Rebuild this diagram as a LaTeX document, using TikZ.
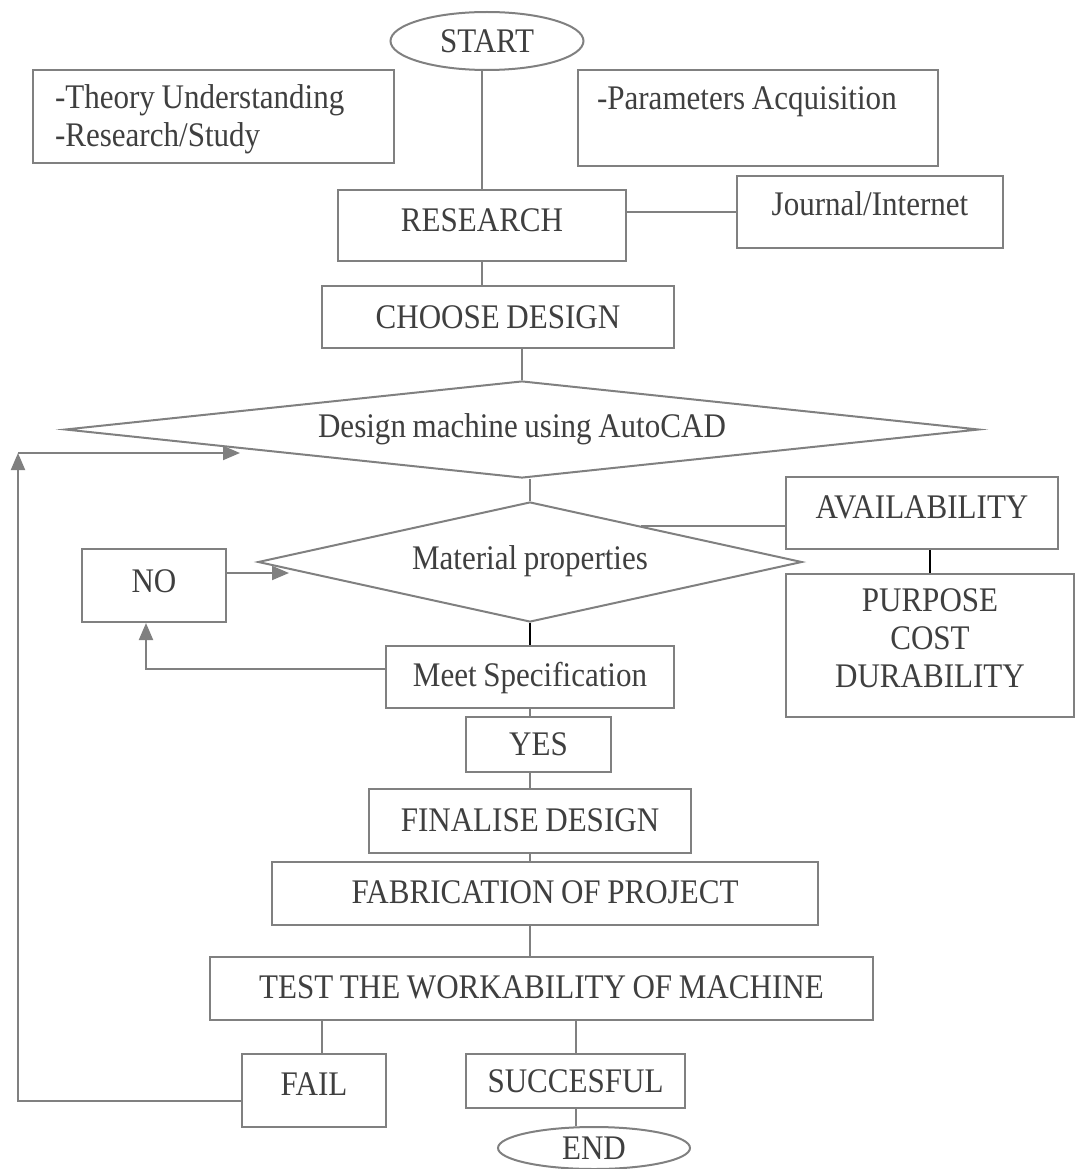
\documentclass[tikz,border=0pt]{standalone}
\usepackage{fontspec}
\setmainfont{Liberation Serif}[FakeStretch=0.9,WordSpace=0.85]
\usetikzlibrary{shapes.geometric,arrows.meta}
\definecolor{linegray}{HTML}{808080}
\definecolor{textgray}{HTML}{3F3F3F}
\tikzstyle{flowbox}=[draw=linegray,line width=2pt,rectangle,inner sep=0pt,text=textgray,font=\fontsize{34.5}{38}\selectfont]
\tikzstyle{terminal}=[flowbox,ellipse]
\tikzstyle{decision}=[flowbox,diamond]
\tikzstyle{link}=[draw=linegray,line width=2pt]
\tikzstyle{darklink}=[draw=black,line width=2pt]
\tikzstyle{backlink}=[link,-{Triangle[length=17pt,width=14pt]}]
\tikzset{txtup/.style={text height=22pt,text depth=#1}} % pushes the text up in the box

\begin{document}
\begin{tikzpicture}[x=1pt,y=-1pt]
\useasboundingbox (0,0) rectangle (1076,1169);
% top part
\node[terminal,minimum width=193pt,minimum height=58pt] (start) at (487,41) {START};
\node[flowbox,minimum width=361pt,minimum height=93pt,text width=317pt,align=flush left,text height=30pt] (theory) at (213.5,116.5) {-Theory Understanding\\-Research/Study};
\node[flowbox,minimum width=360pt,minimum height=96pt,text width=322pt,align=flush left,txtup=38pt] (params) at (758,118) {-Parameters Acquisition};
\node[flowbox,minimum width=288pt,minimum height=71pt,txtup=11pt] (research) at (482,225.5) {RESEARCH};
\node[flowbox,minimum width=266pt,minimum height=72pt,txtup=16pt] (journal) at (870,212) {Journal/Internet};
\node[flowbox,minimum width=352pt,minimum height=62pt,txtup=0pt] (choose) at (498,317) {CHOOSE DESIGN};
% decisions
\node[decision,minimum width=914pt,minimum height=97pt,shape aspect=9,txtup=7pt] (design) at (522,429.5) {Design machine using AutoCAD};
\node[decision,minimum width=544pt,minimum height=120pt,shape aspect=4.5,txtup=7pt] (mat) at (530,562) {Material properties};
\node[flowbox,minimum width=272pt,minimum height=72pt,txtup=12pt] (avail) at (922,513) {AVAILABILITY};
\node[flowbox,minimum width=288pt,minimum height=143pt,text width=288pt,align=center,text depth=90pt] (purpose) at (930,645.5) {PURPOSE\\COST\\DURABILITY};
\node[flowbox,minimum width=144pt,minimum height=73pt,txtup=9pt] (no) at (154,585.5) {NO};
\node[flowbox,minimum width=288pt,minimum height=62pt,txtup=4pt] (meet) at (530,677) {Meet Specification};
% bottom part
\node[flowbox,minimum width=145pt,minimum height=55pt,txtup=0pt] (yes) at (538.5,744.5) {YES};
\node[flowbox,minimum width=322pt,minimum height=64pt,txtup=2pt] (final) at (530,821) {FINALISE DESIGN};
\node[flowbox,minimum width=546pt,minimum height=63pt,txtup=2pt] (fab) at (545,893.5) {FABRICATION OF PROJECT};
\node[flowbox,minimum width=663pt,minimum height=63pt,txtup=2pt] (test) at (541.5,988.5) {TEST THE WORKABILITY OF MACHINE};
\node[flowbox,minimum width=144pt,minimum height=73pt,txtup=13pt] (fail) at (314,1090.5) {FAIL};
\node[flowbox,minimum width=219pt,minimum height=54pt,txtup=0pt] (succ) at (575.5,1081) {SUCCESFUL};
\node[terminal,minimum width=192pt,minimum height=42pt] (end) at (594,1148) {END};

\coordinate (noin) at (289,573);
\coordinate (ret) at (18,453);
\coordinate (retin) at (240,453);

\draw[link] (research.north) -- (research.north |- start.south);
\draw[link] (journal.west) -- (journal.west -| research.east);
\draw[link] (research.south) -- (research.south |- choose.north);
\draw[link] (design.north) -- (design.north |- choose.south);
\draw[link] (mat.north) -- (mat.north |- design.south);
\draw[link] (mat.18) -- (mat.18 -| avail.west);
\draw[darklink] (purpose.north) -- (purpose.north |- avail.south);
\draw[darklink] (mat.south) -- (meet.north);
\draw[backlink] ([yshift=8pt]meet.west) -| ([xshift=-8pt]no.south);
\draw[backlink] (no.east |- noin) -- (noin);
\draw[link] (meet.south) -- (meet.south |- yes.north);
\draw[link] (final.north) -- (final.north |- yes.south);
\draw[link] (final.south) -- (final.south |- fab.north);
\draw[link] (final.south |- fab.south) -- (final.south |- test.north);
\draw[link] ([xshift=8pt]fail.north) -- ([xshift=8pt]fail.north |- test.south);
\draw[link] (succ.north) -- (succ.north |- test.south);
\draw[link] (succ.south) -- (succ.south |- end.north);
\draw[backlink] ([yshift=-10.5pt]fail.west) -| (ret);
\draw[backlink] (ret) -- (retin);
\end{tikzpicture}
\end{document}
